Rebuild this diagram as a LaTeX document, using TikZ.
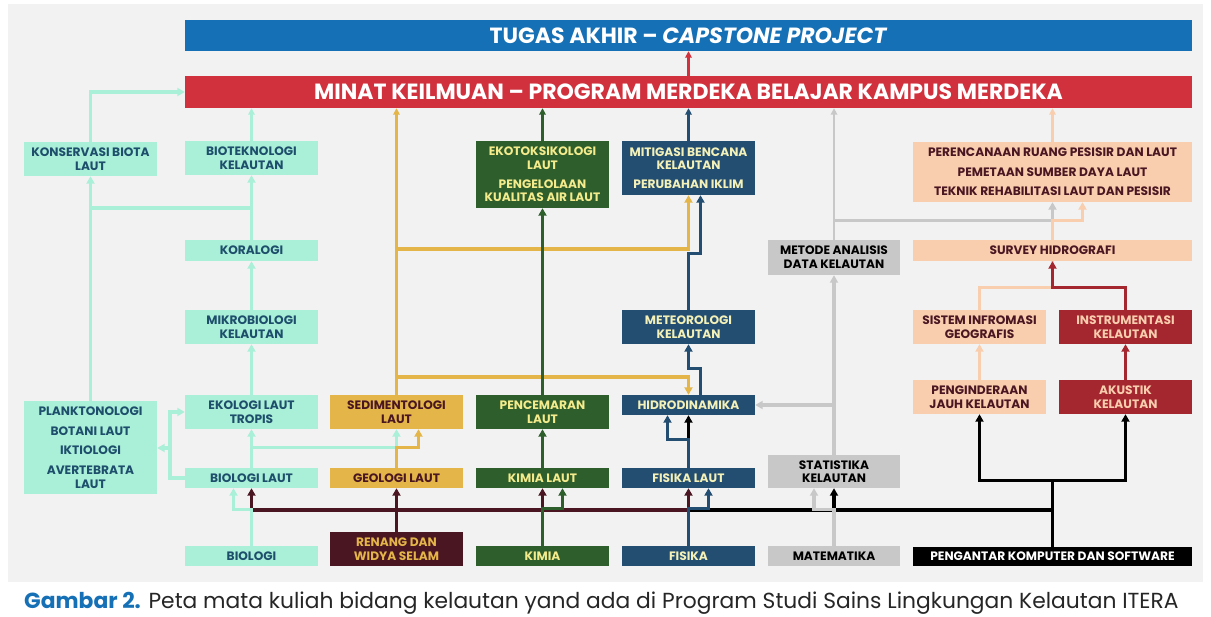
\documentclass[tikz,border=0pt]{standalone}
\usepackage{fontspec}
\setmainfont{Poppins}
\usepackage{xcolor}
\usetikzlibrary{arrows.meta}

\definecolor{bggrey}{HTML}{F2F2F2}
\definecolor{tugasblue}{HTML}{1570B6}
\definecolor{minatred}{HTML}{D1313D}
\definecolor{mint}{HTML}{AAEFD7}
\definecolor{minttext}{HTML}{1D4E6B}
\definecolor{sand}{HTML}{E4B548}
\definecolor{wine}{HTML}{4A1621}
\definecolor{forest}{HTML}{2E5E2C}
\definecolor{lemon}{HTML}{F4EB8C}
\definecolor{navy}{HTML}{244E71}
\definecolor{cream}{HTML}{F4F1B8}
\definecolor{ash}{HTML}{C8C8C8}
\definecolor{peach}{HTML}{F9CEAF}
\definecolor{brick}{HTML}{A4262F}

\begin{document}
\begin{tikzpicture}[x=1pt,y=-1pt,
  box/.style={inner sep=0pt,align=center,minimum width=133pt,font=\bfseries\fontsize{12.2}{13.6}\selectfont},
  banner/.style={inner sep=0pt,minimum width=1007pt,text=white,font=\bfseries\fontsize{22}{24}\selectfont},
  mintbox/.style={box,fill=mint,text=minttext},
  sandbox/.style={box,fill=sand,text=wine},
  winebox/.style={box,fill=wine,text=sand},
  forestbox/.style={box,fill=forest,text=lemon},
  navybox/.style={box,fill=navy,text=cream},
  ashbox/.style={box,fill=ash,text=black},
  peachbox/.style={box,fill=peach,text=wine},
  brickbox/.style={box,fill=brick,text=peach},
  ln/.style={line width=3.2pt},
  arr/.style={ln,-{Triangle[length=7.5pt,width=8pt]}},
  thinarr/.style={line width=2.4pt,-{Triangle[length=6.5pt,width=6.5pt]}},
]
\fill[white] (0,0) rectangle (1211,617);
\fill[bggrey] (8,4) rectangle (1203,582);

% banners
\node[banner,fill=tugasblue,minimum height=31pt] (tugas) at (688.5,35.5) {TUGAS AKHIR -- \textit{CAPSTONE PROJECT}};
\node[banner,fill=minatred,minimum height=32pt] (minat) at (688.5,92) {MINAT KEILMUAN -- PROGRAM MERDEKA BELAJAR KAMPUS MERDEKA};

% biologi
\node[mintbox,minimum height=34pt] (konservasi) at (90.5,159) {KONSERVASI BIOTA\\LAUT};
\node[mintbox,minimum height=34pt] (biotek) at (251.5,158) {BIOTEKNOLOGI\\KELAUTAN};
\node[mintbox,minimum height=21pt] (koralogi) at (251.5,250.5) {KORALOGI};
\node[mintbox,minimum height=34pt] (mikro) at (251.5,327) {MIKROBIOLOGI\\KELAUTAN};
\node[mintbox,minimum height=34pt] (ekologi) at (251.5,412) {EKOLOGI LAUT\\TROPIS};
\node[mintbox,minimum height=93pt] (plankton) at (90.5,447.5) {PLANKTONOLOGI\\[6pt]BOTANI LAUT\\[6pt]IKTIOLOGI\\[6pt]AVERTEBRATA\\LAUT};
\node[mintbox,minimum height=20pt] (biolaut) at (251.5,478) {BIOLOGI LAUT};
\node[mintbox,minimum height=20pt] (bio) at (251.5,556) {BIOLOGI};

% geologi
\node[sandbox,minimum height=34pt] (sedimen) at (396.5,412) {SEDIMENTOLOGI\\LAUT};
\node[sandbox,minimum height=20pt] (geolaut) at (396.5,478) {GEOLOGI LAUT};
\node[winebox,minimum height=34pt] (renang) at (396.5,549) {RENANG DAN\\WIDYA SELAM};

% kimia
\node[forestbox,minimum height=67pt] (ekotoks) at (542.5,174.5) {EKOTOKSIKOLOGI\\LAUT\\[5pt]PENGELOLAAN\\KUALITAS AIR LAUT};
\node[forestbox,minimum height=34pt] (pencemaran) at (542.5,412) {PENCEMARAN\\LAUT};
\node[forestbox,minimum height=20pt] (kimialaut) at (542.5,478) {KIMIA LAUT};
\node[forestbox,minimum height=20pt] (kimia) at (542.5,556) {KIMIA};

% fisika
\node[navybox,minimum height=54pt] (mitigasi) at (688.5,168) {MITIGASI BENCANA\\KELAUTAN\\[5pt]PERUBAHAN IKLIM};
\node[navybox,minimum height=34pt] (meteo) at (688.5,327) {METEOROLOGI\\KELAUTAN};
\node[navybox,minimum height=20pt] (hidro) at (688.5,405) {HIDRODINAMIKA};
\node[navybox,minimum height=20pt] (fisikalaut) at (688.5,478) {FISIKA LAUT};
\node[navybox,minimum height=20pt] (fisika) at (688.5,556) {FISIKA};

% matematika
\node[ashbox,minimum width=132pt,minimum height=35pt] (metode) at (834,257.5) {METODE ANALISIS\\DATA KELAUTAN};
\node[ashbox,minimum width=132pt,minimum height=33pt] (statistika) at (834,471.5) {STATISTIKA\\KELAUTAN};
\node[ashbox,minimum width=132pt,minimum height=20pt] (matematika) at (834,556) {MATEMATIKA};

% spasial
\node[peachbox,minimum width=279pt,minimum height=60pt] (perencanaan) at (1052.5,172) {PERENCANAAN RUANG PESISIR DAN LAUT\\[6pt]PEMETAAN SUMBER DAYA LAUT\\[6pt]TEKNIK REHABILITASI LAUT DAN PESISIR};
\node[peachbox,minimum width=279pt,minimum height=21pt] (survey) at (1052.5,250.5) {SURVEY HIDROGRAFI};
\node[peachbox,minimum height=34pt] (sistem) at (979.5,327) {SISTEM INFROMASI\\GEOGRAFIS};
\node[brickbox,minimum height=34pt] (instrum) at (1125.5,327) {INSTRUMENTASI\\KELAUTAN};
\node[peachbox,minimum height=34pt] (pengind) at (979.5,397) {PENGINDERAAN\\JAUH KELAUTAN};
\node[brickbox,minimum height=34pt] (akustik) at (1125.5,397) {AKUSTIK\\KELAUTAN};
\node[box,fill=black,text=white,minimum width=279pt,minimum height=19pt] (pengantar) at (1052.5,556.5) {PENGANTAR KOMPUTER DAN SOFTWARE};

\node[anchor=west,inner sep=0pt,text=black!85,font=\fontsize{21.8}{24}\selectfont] (caption) at (24,603) {\textcolor{tugasblue}{\bfseries Gambar 2.} Peta mata kuliah bidang kelautan yand ada di Program Studi Sains Lingkungan Kelautan ITERA};

\coordinate (mrow) at (0,510);
\coordinate (mjoin) at (170,448);
\coordinate (kjoin) at (90.5,208);
\coordinate (yhid) at (396.5,377);
\coordinate (ymit) at (396.5,249);

% black
\draw[ln,black] (pengantar.north) |- (mrow -| fisikalaut.south);
\draw[arr,black] ([yshift=-25pt]hidro.south) -- (hidro.south);
\draw[arr,black] (mrow -| statistika.south) -- (statistika.south);
\draw[arr,black] (pengantar.north) -- ++(0,-66.5) -| (pengind.south);
\draw[arr,black] (pengantar.north) -- ++(0,-66.5) -| (akustik.south);

% renang
\draw[arr,wine] (renang.north) -- (geolaut.south);
\draw[arr,wine] (mrow -| renang.north) -| (biolaut.south);
\draw[arr,wine] (mrow -| renang.north) -| (kimialaut.south);
\draw[arr,wine] (mrow -| renang.north) -| (fisikalaut.south);

% biologi
\draw[arr,mint] (bio.north) -- ++(0,-36) -| ([xshift=-18pt]biolaut.south);
\draw[arr,mint] (biolaut.north) -- (ekologi.south);
\draw[arr,mint] ([yshift=20pt]biolaut.north) -| (sedimen.south);
\draw[arr,mint] (biolaut.west) -| (mjoin) |- (ekologi.west);
\draw[arr,mint] (mjoin) -- (mjoin -| plankton.east);
\draw[arr,mint] (ekologi.north) -- (mikro.south);
\draw[arr,mint] (mikro.north) -- (koralogi.south);
\draw[arr,mint] (koralogi.north) -- (biotek.south);
\draw[arr,mint] (plankton.north) -- (konservasi.south);
\draw[ln,mint] (kjoin) -- (kjoin -| koralogi.north);
\draw[arr,mint] (konservasi.north) |- (minat.west);
\draw[thinarr,mint] (biotek.north) -- (biotek.north |- minat.south);

% geologi
\draw[arr,sand] (geolaut.north) -- ++(0,-20) -| ([xshift=22pt]sedimen.south);
\draw[thinarr,sand] (sedimen.north) -- (sedimen.north |- minat.south);
\draw[arr,sand] (yhid) -| (hidro.north);
\draw[arr,sand] (ymit) -| (mitigasi.south);

% kimia
\draw[arr,forest] (kimia.north) -- ++(0,-37) -| ([xshift=20pt]kimialaut.south);
\draw[arr,forest] (kimialaut.north) -- (pencemaran.south);
\draw[arr,forest] (pencemaran.north) -- (ekotoks.south);
\draw[thinarr,forest] (ekotoks.north) -- (ekotoks.north |- minat.south);

% fisika
\draw[arr,navy] (fisika.north) -- ++(0,-37) -| ([xshift=20pt]fisikalaut.south);
\draw[arr,navy] (fisikalaut.north) -- ++(0,-28) -| ([xshift=-21pt]hidro.south);
\draw[arr,navy] ([xshift=12pt]hidro.north) -- ++(0,-26) -| (meteo.south);
\draw[arr,navy] (meteo.north) -- ++(0,-56) -| ([xshift=12pt]mitigasi.south);
\draw[thinarr,navy] (mitigasi.north) -- (mitigasi.north |- minat.south);

% matematika
\draw[arr,ash] (matematika.north) -- ++(0,-36) -| ([xshift=-20pt]statistika.south);
\draw[arr,ash] (statistika.north) -- (metode.south);
\draw[arr,ash] (statistika.north |- hidro.east) -- (hidro.east);
\draw[thinarr,ash] (metode.north) -- (metode.north |- minat.south);
\draw[arr,ash] ([yshift=19pt]metode.north) -| (perencanaan.south);

% spasial
\draw[arr,peach] (survey.north) -- ++(0,-19) -| ([xshift=30pt]perencanaan.south);
\draw[thinarr,peach] (perencanaan.north) -- (perencanaan.north |- minat.south);
\draw[ln,peach] (sistem.north) -- ++(0,-22) -| (survey.south);
\draw[arr,brick] (instrum.north) -- ++(0,-22) -| (survey.south);
\draw[arr,peach] (pengind.north) -- (sistem.south);
\draw[arr,brick] (akustik.north) -- (instrum.south);

\draw[thinarr,minatred] (minat.north) -- (tugas.south);
\end{tikzpicture}
\end{document}
